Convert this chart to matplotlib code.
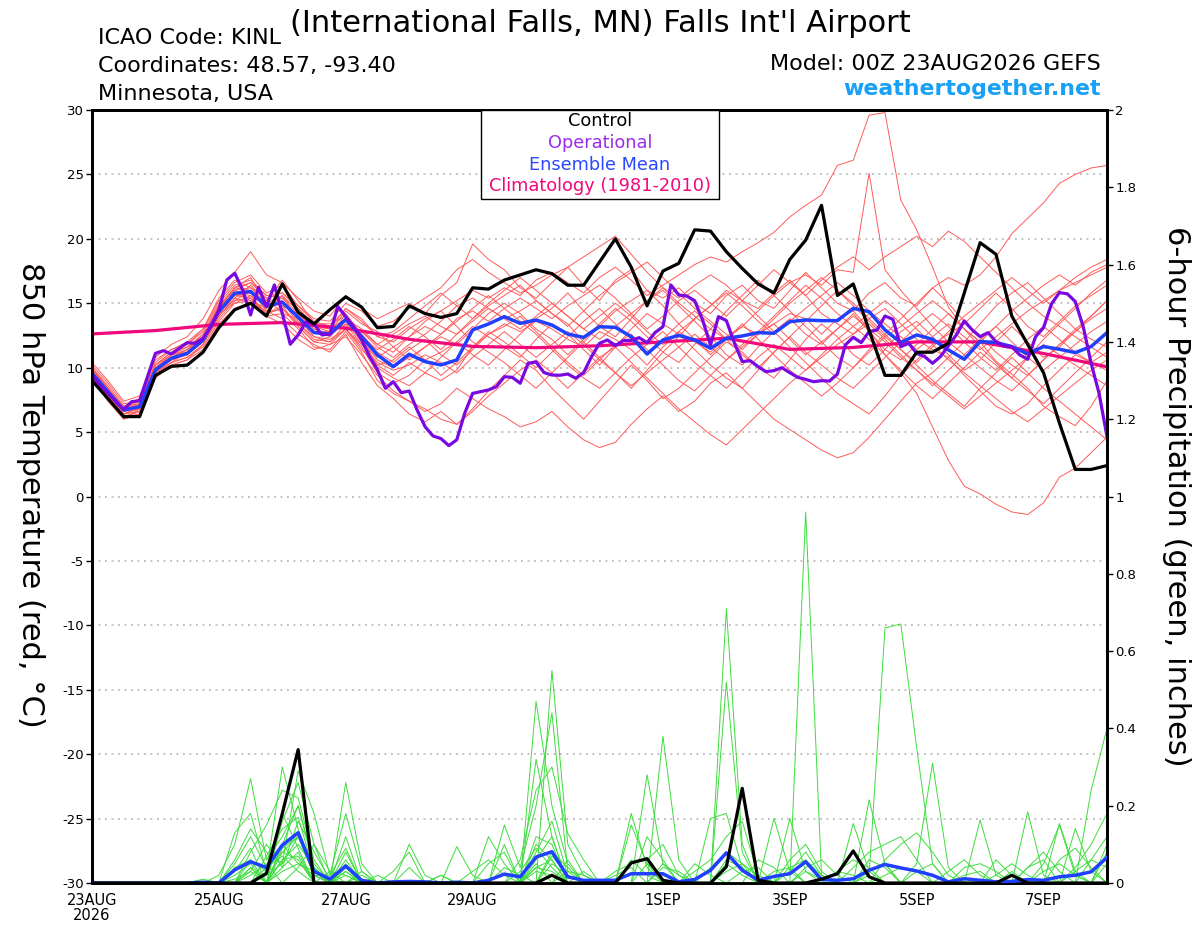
import numpy as np
import matplotlib
matplotlib.use("Agg")
import matplotlib.pyplot as plt
from matplotlib.patches import Rectangle

plt.rcParams['font.family'] = ['DejaVu Sans']
plt.rcParams['axes.unicode_minus'] = False

# ---------------- data ----------------
x_tick_days = [0, 2, 4, 6, 9, 11, 13, 15]
x_tick_labels = ["23AUG\n2026", "25AUG", "27AUG", "29AUG", "1SEP", "3SEP", "5SEP", "7SEP"]
temp_ticks = [-30, -25, -20, -15, -10, -5, 0, 5, 10, 15, 20, 25, 30]
precip_ticks = [0, 0.2, 0.4, 0.6, 0.8, 1.0, 1.2, 1.4, 1.6, 1.8, 2.0]

# 6-hourly control (black) 850 hPa temperature
control_temp = [9.0, 7.6, 6.2, 6.2, 9.4, 10.1, 10.2, 11.2, 13.1, 14.5, 15.0, 14.0, 16.5,
                14.3, 13.4, 14.5, 15.5, 14.7, 13.1, 13.2, 14.8, 14.2, 13.9, 14.2, 16.2, 16.1,
                16.8, 17.2, 17.6, 17.3, 16.4, 16.4, 18.2, 20.0, 17.8, 14.8, 17.5, 18.1, 20.7,
                20.6, 19.0, 17.7, 16.5, 15.8, 18.4, 19.9, 22.6, 15.6, 16.5, 12.9, 9.4, 9.4,
                11.2, 11.2, 11.9, 15.8, 19.7, 18.8, 14.0, 11.8, 9.6, 5.7, 2.1, 2.1, 2.4]

# 6-hourly ensemble mean (blue) temperature
mean_temp = [9.56, 8.14, 6.71, 6.97, 9.82, 10.73, 11.11, 12.15, 14.35, 15.78, 15.91, 14.79, 15.08,
             13.91, 12.72, 12.61, 13.75, 12.41, 10.99, 10.08, 11.04, 10.47, 10.21, 10.6, 12.93, 13.39,
             13.96, 13.44, 13.7, 13.31, 12.61, 12.35, 13.18, 13.13, 12.41, 11.06, 12.15, 12.51, 12.15,
             11.5, 12.28, 12.46, 12.72, 12.67, 13.57, 13.7, 13.65, 13.65, 14.6, 14.35, 12.93, 11.95,
             12.54, 12.2, 11.38, 10.65, 12.03, 11.95, 11.64, 11.07, 11.64, 11.43, 11.17, 11.64, 12.72]

# 3-hourly operational (purple) temperature
oper_temp = [9.43, 8.65, 8.0, 7.36, 6.76, 7.36, 7.44, 9.3, 11.11, 11.32, 11.06, 11.5, 11.94,
             11.89, 12.28, 13.18, 14.48, 16.81, 17.33, 16.04, 14.09, 16.24, 14.74, 16.42, 14.22, 11.82,
             12.54, 13.57, 13.39, 12.54, 12.61, 14.74, 13.96, 13.18, 12.15, 10.86, 9.82, 8.4, 8.91,
             8.06, 8.19, 6.71, 5.42, 4.7, 4.5, 3.95, 4.4, 6.46, 8.0, 8.14, 8.27, 8.53,
             9.3, 9.25, 8.79, 10.34, 10.44, 9.62, 9.43, 9.41, 9.51, 9.18, 9.62, 10.86, 11.89,
             12.15, 11.71, 12.1, 12.12, 12.33, 11.94, 12.72, 13.18, 16.42, 15.64, 15.56, 15.2, 13.7,
             11.76, 13.96, 13.65, 11.94, 10.47, 10.54, 10.08, 9.69, 9.77, 10.0, 9.61, 9.25, 9.09,
             8.91, 8.99, 8.96, 9.5, 11.76, 12.36, 11.94, 12.8, 12.93, 14.01, 13.75, 11.63, 11.89,
             11.11, 10.86, 10.34, 10.86, 11.69, 12.54, 13.63, 12.93, 12.41, 12.72, 12.02, 11.69, 11.63,
             10.99, 10.65, 12.41, 13.11, 14.95, 15.83, 15.73, 15.13, 13.19, 10.34, 8.01, 4.65]

# daily climatology (1981-2010)
clim_temp = [12.62, 12.88, 13.36, 13.5, 13.06, 12.2, 11.65, 11.55, 11.7, 12.0, 12.28, 11.42,
             11.57, 12.0, 12.0, 11.1, 10.07]

# ensemble members, 6-hourly temperature
member_temp_01 = [10.0, 8.4, 6.8, 7.6, 10.2, 11.2, 11.8, 13.0, 15.2, 16.6, 17.2, 15.8, 16.4,
                  14.8, 13.6, 13.2, 14.6, 13.8, 12.4, 12.0, 13.0, 13.8, 14.4, 15.2, 16.0, 15.4,
                  16.2, 15.6, 16.8, 17.4, 16.6, 15.8, 17.0, 17.8, 16.8, 15.6, 16.4, 17.2, 18.0,
                  18.6, 18.2, 19.0, 19.7, 20.5, 21.7, 22.6, 23.4, 25.7, 26.1, 29.6, 29.8, 23.0,
                  20.7, 17.8, 14.7, 13.0, 12.0, 10.5, 9.5, 8.4, 7.0, 6.2, 5.5, 7.0, 9.0]
member_temp_02 = [9.4, 7.8, 6.4, 6.6, 9.4, 10.4, 10.8, 11.8, 14.0, 15.4, 15.0, 14.2, 14.8,
                  13.2, 12.0, 12.4, 13.6, 12.0, 10.2, 9.4, 10.4, 9.6, 9.0, 9.8, 11.6, 12.6,
                  13.4, 12.8, 13.6, 13.0, 12.2, 11.6, 12.8, 12.2, 11.4, 10.2, 11.6, 12.8, 12.0,
                  11.2, 12.4, 13.2, 12.6, 13.4, 14.2, 13.8, 12.6, 13.8, 14.4, 13.0, 11.0, 9.6,
                  8.0, 5.4, 2.8, 0.8, 0.2, -0.6, -1.2, -1.4, -0.5, 1.5, 2.2, 3.4, 4.6]
member_temp_03 = [10.4, 9.0, 7.4, 7.8, 10.8, 11.8, 12.4, 13.8, 16.0, 17.4, 19.0, 17.2, 16.6,
                  15.4, 14.4, 14.0, 15.6, 14.6, 13.8, 14.4, 15.0, 14.2, 15.6, 16.6, 19.6, 18.4,
                  17.6, 16.2, 15.4, 16.6, 17.8, 16.4, 15.2, 16.8, 17.6, 16.0, 15.4, 16.2, 15.0,
                  14.2, 15.6, 16.4, 15.2, 14.6, 16.0, 17.4, 16.2, 15.0, 14.4, 15.8, 16.6, 15.4,
                  14.8, 16.2, 17.0, 16.4, 17.2, 18.6, 20.4, 21.6, 22.8, 24.3, 25.0, 25.5, 25.7]
member_temp_04 = [9.8, 8.0, 6.2, 6.4, 9.6, 10.6, 11.0, 12.0, 14.6, 16.2, 16.0, 14.4, 13.8,
                  12.6, 11.8, 11.2, 12.6, 10.4, 8.6, 7.6, 6.4, 5.8, 6.6, 5.6, 6.8, 8.2,
                  9.4, 10.6, 9.8, 8.4, 7.2, 6.0, 7.4, 8.8, 10.2, 9.0, 7.6, 8.4, 9.6,
                  10.8, 12.0, 11.2, 10.0, 9.2, 10.6, 12.2, 13.4, 12.4, 11.0, 10.2, 11.4, 12.8,
                  13.6, 12.4, 11.0, 9.8, 10.6, 12.0, 13.2, 12.0, 10.8, 11.6, 12.8, 14.0, 15.2]
member_temp_05 = [9.2, 7.6, 6.0, 6.8, 9.8, 10.8, 11.4, 12.6, 14.2, 15.0, 15.6, 14.8, 15.4,
                  14.6, 13.2, 12.8, 13.2, 12.8, 11.6, 10.8, 11.8, 12.6, 13.6, 14.8, 15.4, 14.6,
                  13.8, 14.4, 15.2, 14.2, 13.4, 12.0, 10.8, 9.6, 8.4, 9.8, 11.2, 12.4, 13.8,
                  14.8, 16.0, 15.2, 14.0, 12.8, 11.6, 10.4, 9.2, 8.0, 7.2, 6.4, 7.8, 9.4,
                  10.6, 11.8, 12.6, 13.4, 14.6, 15.8, 14.6, 13.2, 12.4, 13.6, 14.8, 15.6, 16.4]
member_temp_06 = [9.6, 8.2, 6.6, 7.2, 10.0, 11.0, 11.6, 12.2, 14.8, 16.0, 16.6, 15.4, 14.2,
                  13.8, 12.4, 12.2, 13.0, 11.6, 9.6, 8.8, 9.4, 10.6, 11.2, 12.0, 11.0, 10.2,
                  11.4, 12.6, 13.8, 14.6, 15.8, 14.4, 13.2, 12.4, 13.8, 15.2, 16.0, 14.8, 13.6,
                  12.4, 11.0, 10.2, 11.6, 12.8, 13.8, 12.6, 11.8, 13.0, 14.2, 12.8, 11.4, 10.6,
                  11.8, 13.0, 14.2, 13.0, 11.6, 10.4, 9.2, 10.8, 12.2, 13.4, 14.6, 15.8, 16.8]
member_temp_07 = [10.0, 8.2, 6.6, 6.8, 9.6, 10.4, 10.8, 11.6, 13.6, 15.0, 15.2, 14.0, 13.4,
                  12.2, 11.4, 11.8, 12.4, 11.0, 9.4, 8.2, 7.4, 6.6, 7.2, 8.4, 7.6, 6.8,
                  6.2, 5.4, 5.8, 6.6, 5.4, 4.4, 3.8, 4.2, 5.6, 6.8, 7.8, 6.6, 7.4,
                  8.8, 9.6, 8.4, 7.2, 6.0, 5.2, 4.4, 3.6, 3.0, 3.4, 4.6, 6.0, 7.4,
                  8.8, 9.6, 10.8, 9.4, 8.2, 7.0, 6.4, 7.2, 8.6, 9.8, 11.0, 10.4, 11.2]
member_temp_08 = [9.8, 8.4, 7.0, 7.2, 10.4, 11.4, 11.8, 12.8, 15.0, 16.4, 16.8, 15.6, 15.8,
                  14.8, 13.8, 13.6, 15.0, 14.4, 13.2, 13.6, 14.6, 15.4, 16.2, 17.6, 18.4, 17.4,
                  16.6, 15.8, 16.4, 17.2, 17.8, 18.6, 19.4, 20.2, 18.8, 17.4, 16.2, 15.4, 16.4,
                  17.2, 16.4, 15.2, 14.6, 15.8, 16.8, 15.6, 14.2, 13.4, 12.6, 13.8, 14.6, 13.4,
                  12.2, 11.4, 10.8, 12.0, 13.4, 14.8, 15.8, 16.6, 15.4, 14.2, 13.0, 12.2, 11.6]
member_temp_09 = [9.4, 7.8, 6.4, 7.0, 9.8, 10.6, 11.2, 12.4, 14.4, 15.8, 15.2, 14.6, 15.6,
                  13.6, 12.8, 12.6, 13.8, 12.2, 10.6, 10.0, 10.8, 11.6, 12.4, 11.8, 13.0, 14.2,
                  15.0, 14.2, 13.0, 12.2, 11.0, 12.2, 13.4, 14.6, 13.6, 12.4, 11.2, 10.4, 11.8,
                  13.0, 14.4, 15.6, 16.8, 15.6, 14.4, 13.2, 12.0, 10.8, 10.0, 11.4, 12.6, 13.8,
                  15.0, 16.2, 15.0, 13.6, 12.4, 11.2, 10.2, 9.4, 10.6, 11.8, 13.0, 14.0, 15.2]
member_temp_10 = [10.2, 8.8, 7.2, 7.4, 10.2, 11.2, 11.6, 12.6, 14.8, 16.2, 17.0, 15.0, 14.8,
                  14.2, 13.0, 12.4, 14.2, 12.6, 11.2, 10.4, 11.4, 12.2, 11.0, 10.2, 11.4, 12.6,
                  13.2, 14.0, 12.8, 11.6, 10.4, 9.4, 10.6, 11.8, 12.6, 11.4, 10.2, 9.0, 8.2,
                  9.4, 10.6, 11.8, 12.8, 14.0, 15.2, 16.4, 15.4, 14.2, 13.2, 12.2, 11.0, 9.8,
                  8.6, 7.6, 8.8, 10.0, 11.2, 10.2, 9.2, 8.2, 7.2, 8.4, 9.6, 10.8, 12.0]
member_temp_11 = [9.6, 8.0, 6.8, 7.0, 9.4, 10.4, 11.2, 12.0, 14.2, 15.6, 15.8, 14.8, 15.0,
                  14.0, 12.8, 12.6, 13.4, 11.8, 10.8, 11.6, 12.4, 13.2, 12.6, 13.8, 14.4, 13.6,
                  14.6, 15.4, 14.6, 13.8, 14.8, 15.6, 16.4, 15.4, 14.2, 13.0, 14.0, 15.2, 16.0,
                  15.0, 14.0, 15.2, 16.4, 17.6, 16.6, 15.6, 16.8, 17.8, 18.6, 17.6, 18.6, 19.4,
                  20.2, 19.4, 20.6, 19.8, 18.6, 17.4, 16.2, 15.0, 14.0, 13.2, 12.4, 11.6, 10.8]
member_temp_12 = [9.8, 8.2, 6.8, 7.2, 10.0, 10.8, 11.0, 12.2, 14.0, 15.4, 16.4, 15.2, 16.8,
                  15.2, 13.4, 13.4, 14.0, 12.4, 10.0, 9.2, 8.6, 9.6, 10.8, 12.0, 13.2, 12.4,
                  11.6, 10.8, 12.2, 13.4, 12.6, 11.4, 10.2, 11.6, 13.0, 14.2, 13.4, 12.6, 11.4,
                  10.2, 9.2, 8.4, 9.8, 11.2, 12.4, 13.6, 14.8, 16.0, 15.0, 13.8, 12.6, 11.4,
                  10.2, 9.0, 8.0, 7.0, 8.4, 9.6, 10.8, 9.6, 8.4, 7.4, 6.4, 5.4, 4.4]
member_temp_13 = [9.2, 7.6, 6.2, 6.6, 9.2, 10.2, 10.6, 11.4, 13.4, 14.6, 15.0, 14.4, 15.2,
                  13.4, 12.2, 12.0, 13.4, 12.8, 11.8, 11.2, 12.4, 13.6, 14.4, 13.2, 12.0, 11.2,
                  10.4, 9.4, 8.4, 9.6, 10.8, 12.0, 13.2, 14.4, 15.2, 16.0, 14.8, 13.4, 12.2,
                  11.0, 12.2, 13.4, 12.2, 11.0, 9.8, 8.8, 7.8, 8.8, 10.0, 11.2, 12.4, 13.2,
                  14.2, 15.2, 14.2, 13.0, 12.0, 13.2, 14.4, 15.4, 16.4, 17.2, 16.4, 17.4, 18.0]
member_temp_14 = [9.6, 8.0, 6.4, 6.8, 9.8, 10.6, 11.2, 12.2, 14.2, 15.6, 15.4, 14.0, 14.2,
                  13.0, 11.6, 11.4, 12.8, 11.2, 9.0, 8.0, 7.4, 6.8, 6.0, 5.6, 6.6, 7.8,
                  8.8, 9.8, 10.6, 9.6, 8.4, 9.6, 10.8, 11.6, 10.4, 9.2, 8.0, 6.8, 5.8,
                  4.8, 4.0, 5.2, 6.4, 7.6, 8.8, 9.8, 10.8, 11.8, 12.6, 13.4, 12.2, 11.0,
                  9.8, 8.6, 9.8, 11.0, 12.2, 13.2, 12.0, 10.8, 9.8, 10.8, 11.8, 12.8, 13.6]
member_temp_15 = [10.0, 8.6, 7.0, 7.6, 10.6, 11.4, 12.0, 13.0, 15.4, 16.8, 16.2, 15.0, 15.6,
                  14.4, 13.2, 13.0, 14.6, 13.6, 12.4, 12.8, 13.8, 14.8, 15.8, 14.8, 13.8, 14.8,
                  15.6, 16.4, 15.2, 14.2, 13.2, 14.4, 15.6, 16.6, 17.4, 18.2, 17.0, 15.8, 14.6,
                  13.6, 12.6, 11.4, 12.6, 13.8, 15.0, 16.0, 17.0, 16.0, 14.8, 13.6, 12.4, 11.4,
                  10.4, 11.6, 12.8, 14.0, 15.0, 16.0, 17.0, 16.0, 15.0, 16.0, 17.0, 17.8, 18.4]
member_temp_16 = [9.4, 7.8, 6.2, 6.6, 9.6, 10.6, 11.0, 12.0, 14.6, 15.8, 15.6, 14.2, 14.6,
                  13.4, 12.4, 12.0, 13.0, 11.4, 10.2, 10.6, 11.6, 10.6, 9.4, 10.4, 11.6, 12.8,
                  12.0, 11.0, 10.0, 11.2, 12.4, 13.6, 14.6, 13.4, 12.2, 11.0, 12.2, 13.4, 14.4,
                  13.4, 12.2, 11.0, 10.0, 11.2, 12.4, 11.2, 10.2, 9.2, 8.4, 9.6, 10.8, 12.0,
                  13.2, 14.2, 13.2, 12.0, 10.8, 9.8, 11.0, 12.2, 13.2, 12.2, 11.2, 10.4, 9.8]
member_temp_17 = [9.8, 8.4, 6.8, 7.4, 10.2, 11.0, 11.4, 12.4, 14.8, 16.0, 16.2, 15.4, 15.8,
                  14.6, 13.4, 13.0, 13.8, 13.0, 11.8, 12.6, 13.4, 14.0, 13.2, 12.6, 13.6, 14.6,
                  13.8, 13.0, 14.0, 15.0, 14.0, 13.0, 12.2, 13.2, 14.2, 15.2, 16.2, 15.0, 14.0,
                  13.0, 12.2, 13.2, 14.4, 15.6, 16.6, 17.2, 16.4, 17.6, 17.4, 25.1, 17.6, 16.0,
                  14.6, 13.2, 12.0, 11.0, 10.0, 9.0, 8.2, 9.4, 10.6, 11.8, 12.8, 13.8, 14.6]
member_temp_18 = [9.6, 8.0, 6.6, 7.0, 9.8, 10.8, 11.4, 12.4, 14.4, 15.2, 16.0, 14.6, 15.2,
                  14.0, 12.8, 12.8, 14.4, 13.4, 12.8, 11.6, 10.6, 11.6, 12.6, 13.6, 14.6, 15.6,
                  14.6, 13.6, 12.6, 11.4, 10.2, 9.2, 8.4, 9.6, 10.8, 11.8, 12.8, 11.6, 10.4,
                  9.4, 8.4, 9.6, 10.8, 11.8, 10.8, 9.8, 11.0, 12.2, 13.2, 14.2, 15.2, 14.2,
                  13.0, 11.8, 10.6, 9.6, 8.6, 7.6, 6.6, 5.8, 6.8, 7.8, 8.8, 9.8, 10.6]
member_temp_19 = [10.0, 8.4, 6.8, 7.0, 10.0, 11.0, 11.2, 12.4, 14.6, 16.2, 16.6, 15.6, 15.4,
                  14.2, 13.0, 12.6, 13.8, 12.4, 11.4, 12.2, 13.2, 12.4, 11.4, 12.6, 13.8, 15.0,
                  16.0, 17.0, 16.0, 15.0, 14.0, 13.0, 14.0, 15.0, 14.0, 12.8, 11.8, 12.8, 13.8,
                  14.8, 15.8, 14.8, 13.6, 12.6, 13.6, 14.6, 15.6, 16.6, 15.6, 14.4, 13.4, 12.4,
                  11.4, 12.4, 13.4, 12.4, 11.4, 12.4, 13.4, 14.4, 15.2, 16.0, 16.6, 17.2, 17.8]
member_temp_20 = [9.2, 7.4, 6.0, 6.4, 9.4, 10.2, 10.6, 11.8, 13.8, 15.2, 15.4, 14.2, 14.6,
                  13.2, 12.0, 11.8, 13.0, 11.8, 10.4, 9.8, 10.2, 11.0, 10.4, 9.6, 10.8, 11.8,
                  12.8, 11.8, 10.8, 11.8, 12.8, 11.8, 10.6, 9.6, 8.6, 9.6, 10.6, 11.6, 12.6,
                  11.6, 10.6, 11.6, 12.6, 13.4, 12.2, 11.0, 12.0, 13.0, 14.0, 13.0, 12.0, 10.8,
                  9.8, 8.8, 7.8, 6.8, 7.8, 8.8, 9.8, 10.8, 11.8, 11.0, 10.2, 9.4, 8.6]

# 6-hourly precipitation (inches)
control_precip = [0, 0, 0, 0, 0, 0, 0, 0, 0, 0, 0, 0.025, 0.18,
                  0.345, 0, 0, 0, 0, 0, 0, 0, 0, 0, 0, 0, 0,
                  0, 0, 0, 0.02, 0, 0, 0, 0, 0.052, 0.063, 0.007, 0, 0,
                  0, 0.042, 0.245, 0.007, 0, 0, 0, 0.01, 0.024, 0.083, 0.016, 0, 0,
                  0, 0, 0, 0, 0, 0, 0.02, 0, 0, 0, 0, 0, 0]
mean_precip = [0, 0, 0, 0, 0, 0, 0, 0.002, 0, 0.034, 0.055, 0.04, 0.098,
               0.13, 0.03, 0.01, 0.044, 0.007, 0, 0.003, 0.004, 0.003, 0, 0.002, 0, 0.007,
               0.023, 0.016, 0.067, 0.081, 0.016, 0.007, 0.007, 0.007, 0.024, 0.024, 0.024, 0.003, 0.009,
               0.033, 0.078, 0.033, 0.007, 0.017, 0.024, 0.055, 0.009, 0.007, 0.011, 0.033, 0.048, 0.039,
               0.031, 0.02, 0.003, 0.011, 0.007, 0.003, 0.004, 0.009, 0.007, 0.016, 0.02, 0.029, 0.066]

member_precip_01 = [0, 0, 0, 0, 0, 0, 0, 0, .02, .10, .27, .06, .12,
                    .20, .04, 0, .26, .05, 0, 0, 0, 0, 0, 0, 0, 0,
                    0, 0, .47, .20, .05, 0, 0, 0, 0, 0, 0, 0, 0,
                    0, 0, 0, 0, 0, 0, .96, .02, 0, 0, 0, 0, 0,
                    0, 0, 0, 0, 0, 0, 0, 0, .05, .15, .02, 0, 0]
member_precip_02 = [0, 0, 0, 0, 0, 0, 0, 0, 0, .13, .18, .03, .30,
                    .14, .02, 0, .12, 0, 0, 0, 0, 0, 0, 0, 0, 0,
                    0, 0, 0, .55, .10, .02, 0, 0, 0, 0, 0, 0, 0,
                    0, .71, .10, 0, 0, 0, 0, 0, 0, 0, .02, .66, .67,
                    .35, .05, 0, 0, 0, 0, 0, 0, 0, 0, 0, 0, 0]
member_precip_03 = [0, 0, 0, 0, 0, 0, 0, 0, 0, .06, .14, .08, .05,
                    .29, .18, .02, .18, .03, 0, 0, 0, 0, 0, 0, 0, 0,
                    0, 0, .32, .12, 0, 0, 0, 0, 0, 0, .38, .06, 0,
                    0, .52, .08, 0, 0, 0, 0, 0, 0, 0, 0, 0, 0,
                    0, 0, 0, 0, 0, 0, 0, 0, 0, 0, 0, .24, .40]
member_precip_04 = [0, 0, 0, 0, 0, 0, 0, 0, 0, 0, .08, .15, .24,
                    .22, .06, 0, .08, 0, 0, 0, .10, .02, 0, 0, 0, .12,
                    .05, 0, 0, 0, 0, 0, 0, 0, 0, .28, .05, 0, 0,
                    0, 0, 0, 0, 0, 0, 0, 0, 0, 0, 0, 0, 0,
                    .05, .31, .04, 0, 0, 0, 0, 0, 0, 0, 0, 0, 0]
member_precip_05 = [0, 0, 0, 0, 0, 0, 0, 0, 0, .03, .09, 0, .16,
                    .26, .10, 0, 0, .03, 0, 0, 0, 0, 0, 0, 0, 0,
                    .15, .04, .20, .44, .03, 0, 0, 0, .18, .04, 0, 0, 0,
                    0, 0, 0, 0, 0, 0, .03, .01, 0, 0, .215, .05, 0,
                    0, 0, 0, 0, .163, .02, 0, 0, 0, 0, 0, 0, 0]
member_precip_06 = [0, 0, 0, 0, 0, 0, 0, 0, 0, 0, .04, 0, .10,
                    .20, .05, 0, .06, 0, 0, 0, 0, 0, 0, 0, 0, 0,
                    .10, 0, .08, .16, .02, 0, 0, 0, .15, .05, 0, 0, 0,
                    .167, .18, .04, 0, 0, .167, .03, 0, 0, 0, 0, 0, 0,
                    0, 0, 0, 0, 0, 0, 0, 0, 0, 0, .141, .03, 0]
member_precip_07 = [0, 0, 0, 0, 0, 0, 0, 0, 0, 0, 0, .07, .14,
                    .17, .03, 0, 0, 0, 0, .03, .08, 0, 0, .094, .02, 0,
                    0, 0, .12, .10, 0, 0, 0, 0, 0, 0, 0, 0, 0,
                    0, 0, 0, 0, .167, .03, 0, 0, 0, .154, .03, 0, 0,
                    0, 0, 0, 0, 0, 0, 0, .184, .02, 0, 0, 0, 0]
member_precip_08 = [0, 0, 0, 0, 0, 0, 0, 0, 0, .05, .12, .04, .08,
                    .12, .02, .02, .09, 0, 0, 0, 0, 0, 0, 0, 0, 0,
                    0, .06, .24, .30, .128, .06, 0, 0, 0, 0, 0, 0, .03,
                    .06, .12, .16, .02, 0, 0, 0, 0, 0, 0, 0, 0, 0,
                    0, 0, 0, 0, 0, 0, 0, 0, 0, .154, .03, 0, .08]
member_precip_09 = [0, 0, 0, 0, 0, 0, 0, 0, 0, 0, 0, 0, .06,
                    .10, .04, 0, .04, 0, 0, 0, 0, 0, 0, 0, 0, .05,
                    .08, 0, .10, .06, 0, 0, 0, .03, .05, .06, .10, .02, 0,
                    0, 0, 0, 0, 0, .03, .08, .02, 0, 0, 0, .06, .10,
                    .13, .08, .02, 0, 0, 0, 0, 0, 0, 0, 0, .06, .12]
member_precip_10 = [0, 0, 0, 0, 0, 0, 0, 0, 0, 0, .03, .10, .04,
                    .16, .08, .01, 0, 0, 0, 0, 0, 0, 0, 0, 0, 0,
                    0, 0, 0, .08, .04, 0, 0, 0, 0, 0, 0, 0, 0,
                    .04, .08, .05, 0, 0, 0, 0, 0, .03, .06, .04, 0, 0,
                    0, 0, 0, 0, 0, .06, .02, 0, 0, 0, 0, 0, 0]
member_precip_11 = [0, 0, 0, 0, 0, 0, 0, 0, 0, .02, .05, 0, .18,
                    .09, 0, 0, .02, 0, 0, 0, 0, 0, 0, 0, 0, 0,
                    0, 0, .06, .12, 0, .03, 0, 0, 0, .05, .02, 0, 0,
                    0, 0, 0, .06, .04, 0, 0, 0, 0, 0, 0, 0, 0,
                    0, 0, 0, .04, .05, .03, 0, 0, 0, 0, .04, .10, .18]
member_precip_12 = [0, 0, 0, 0, 0, 0, 0, 0, 0, 0, 0, .02, .05,
                    .12, .02, 0, 0, .02, 0, 0, .04, 0, 0, 0, 0, 0,
                    0, 0, 0, .05, .02, 0, 0, 0, 0, 0, 0, 0, 0,
                    0, .06, .04, 0, 0, 0, .04, .06, .02, 0, 0, 0, 0,
                    0, 0, 0, 0, 0, 0, 0, .04, .08, .03, 0, 0, 0]
member_precip_13 = [0, 0, 0, 0, 0, 0, 0, 0, 0, 0, .06, 0, .08,
                    .06, 0, 0, .05, 0, 0, 0, 0, 0, 0, 0, .03, .06,
                    .02, 0, .04, .06, 0, 0, 0, 0, 0, .12, .06, 0, 0,
                    0, 0, 0, 0, 0, 0, 0, 0, 0, .04, .08, .10, .12,
                    .06, 0, 0, 0, 0, 0, .03, 0, 0, 0, 0, 0, .05]
member_precip_14 = [0, 0, 0, 0, 0, 0, 0, 0, 0, .04, .06, .03, .10,
                    .05, .03, 0, .03, 0, 0, 0, 0, 0, .02, 0, 0, 0,
                    0, 0, .05, 0, .06, 0, 0, 0, 0, 0, 0, 0, .05,
                    .02, 0, 0, 0, 0, .06, .10, .03, 0, 0, 0, 0, 0,
                    0, 0, 0, 0, 0, 0, 0, 0, 0, .06, .09, .04, 0]
member_precip_15 = [0, 0, 0, 0, 0, 0, 0, 0, 0, 0, 0, 0, .04,
                    .08, 0, .03, .02, 0, 0, 0, 0, 0, 0, 0, 0, 0,
                    0, .03, .09, .04, 0, 0, 0, 0, 0, 0, .04, .03, 0,
                    0, 0, 0, 0, 0, 0, 0, 0, 0, 0, .06, .04, 0,
                    0, 0, .03, .06, .02, 0, 0, 0, 0, 0, 0, 0, 0]
member_precip_16 = [0, 0, 0, 0, 0, 0, 0, 0, 0, 0, .02, .05, 0,
                    .04, .10, .03, 0, 0, 0, 0, 0, 0, 0, 0, 0, 0,
                    0, 0, .03, .02, 0, 0, 0, .02, .04, 0, 0, 0, 0,
                    0, .03, .05, .02, 0, 0, 0, 0, 0, 0, 0, 0, 0,
                    .03, .05, 0, 0, 0, 0, 0, .04, .06, 0, 0, 0, .10]
member_precip_17 = [0, 0, 0, 0, 0, 0, 0, 0, 0, .01, .03, 0, .06,
                    .07, 0, 0, .04, .01, 0, 0, 0, 0, 0, 0, 0, 0,
                    0, 0, 0, 0, .03, .02, 0, 0, 0, 0, 0, 0, 0,
                    0, 0, 0, 0, 0, .04, .06, .02, 0, 0, 0, 0, 0,
                    0, 0, 0, 0, 0, .02, .05, .02, 0, 0, 0, 0, 0]
member_precip_18 = [0, 0, 0, 0, 0, 0, 0, .01, 0, 0, 0, 0, .03,
                    .05, .02, 0, 0, 0, .02, 0, 0, 0, 0, 0, 0, 0,
                    .04, .02, 0, 0, 0, 0, 0, 0, .06, .02, 0, 0, 0,
                    0, 0, .03, .04, 0, 0, 0, 0, 0, 0, 0, .02, .04,
                    .03, 0, 0, 0, 0, 0, 0, 0, 0, 0, .03, .06, .04]
member_precip_19 = [0, 0, 0, 0, 0, 0, 0, 0, 0, 0, 0, .04, .07,
                    .03, 0, 0, .03, 0, 0, 0, 0, 0, 0, 0, 0, 0,
                    0, 0, .04, .03, 0, 0, 0, 0, 0, 0, .05, .02, 0,
                    0, 0, 0, 0, .03, .04, 0, 0, 0, 0, .03, .05, 0,
                    0, 0, 0, .02, .03, 0, 0, 0, 0, 0, 0, 0, 0]
member_precip_20 = [0, 0, 0, 0, 0, 0, 0, 0, 0, 0, .04, 0, .09,
                    .12, .04, 0, 0, 0, 0, 0, 0, 0, .02, 0, 0, 0,
                    0, 0, 0, .07, .02, 0, 0, 0, 0, 0, 0, 0, 0,
                    0, .05, .02, 0, 0, 0, 0, 0, .03, .02, 0, 0, 0,
                    0, 0, 0, 0, 0, 0, 0, 0, .03, .05, .02, 0, 0]

member_temps = [member_temp_01, member_temp_02, member_temp_03, member_temp_04, member_temp_05,
                member_temp_06, member_temp_07, member_temp_08, member_temp_09, member_temp_10,
                member_temp_11, member_temp_12, member_temp_13, member_temp_14, member_temp_15,
                member_temp_16, member_temp_17, member_temp_18, member_temp_19, member_temp_20]
member_precips = [member_precip_01, member_precip_02, member_precip_03, member_precip_04,
                  member_precip_05, member_precip_06, member_precip_07, member_precip_08,
                  member_precip_09, member_precip_10, member_precip_11, member_precip_12,
                  member_precip_13, member_precip_14, member_precip_15, member_precip_16,
                  member_precip_17, member_precip_18, member_precip_19, member_precip_20]

# time axes (days since 00Z 23AUG)
t6 = np.arange(len(control_temp)) * 0.25
t3 = np.arange(len(oper_temp)) * 0.125
tday = np.arange(len(clim_temp)) * 1.0

# ---------------- figure ----------------
W, H = 1200, 927
fig = plt.figure(figsize=(W / 100, H / 100), dpi=100, facecolor='white')

def fx(px):
    return px / W

def fy(py):
    return 1 - py / H

L, R, T, B = 92, 1107, 110, 883
ax = fig.add_axes([fx(L), fy(B), fx(R - L), (B - T) / H])
ax.set_xlim(0, 16)
ax.set_ylim(-30, 30)
ax2 = ax.twinx()
ax2.set_ylim(0, 2)
ax2.set_xlim(0, 16)

for a in (ax, ax2):
    for s in a.spines.values():
        s.set_linewidth(2.0)
        s.set_color('black')

# grid
for g in temp_ticks[1:-1]:
    ax.axhline(g, color='#b4b4b4', lw=1.2, linestyle=(0, (1.1, 2.8)), zorder=0.5)

red = '#ff5a5a'
green = '#3ddc3d'
for m in member_temps:
    ax.plot(t6, m, color=red, lw=0.7, zorder=1)
ax.plot(tday, clim_temp, color='#f0087c', lw=2.3, zorder=3, solid_joinstyle='round')
ax.plot(t6, mean_temp, color='#2040ff', lw=2.5, zorder=4)
ax.plot(t3, oper_temp, color='#7a08e0', lw=2.3, zorder=5)
ax.plot(t6, control_temp, color='black', lw=2.3, zorder=6)

for p in member_precips:
    ax2.plot(t6, p, color=green, lw=0.7, zorder=1)
ax2.plot(t6, mean_precip, color='#2040ff', lw=2.5, zorder=4)
ax2.plot(t6, control_precip, color='black', lw=2.3, zorder=5)

# ticks
ax.set_yticks(temp_ticks)
ax.set_yticklabels([str(v) for v in temp_ticks])
ax.tick_params(axis='y', direction='out', length=4, width=1, labelsize=9.5, pad=2)
ax2.set_yticks(precip_ticks)
ax2.set_yticklabels([f"{v:g}" for v in precip_ticks])
ax2.tick_params(axis='y', direction='out', length=4, width=1, labelsize=9.5, pad=2)
ax.set_xticks(x_tick_days)
ax.set_xticklabels(x_tick_labels, linespacing=1.05)
ax.tick_params(axis='x', length=0, labelsize=10.5, pad=7)

# axis labels
fig.text(fx(30), fy(495), "850 hPa Temperature (red, °C)", rotation=-90,
         ha='center', va='center', fontsize=22)
fig.text(fx(1177), fy(496), "6-hour Precipitation (green, inches)", rotation=-90,
         ha='center', va='center', fontsize=22)

# header
fig.text(fx(600), fy(32), "(International Falls, MN) Falls Int'l Airport",
         ha='center', va='baseline', fontsize=22)
fig.text(fx(98), fy(43.5), "ICAO Code: KINL", ha='left', va='baseline', fontsize=16)
fig.text(fx(98), fy(72.5), "Coordinates: 48.57, -93.40", ha='left', va='baseline', fontsize=16)
fig.text(fx(98), fy(99.5), "Minnesota, USA", ha='left', va='baseline', fontsize=16)
fig.text(fx(1101), fy(70.5), "Model: 00Z 23AUG2026 GEFS", ha='right', va='baseline', fontsize=16)
fig.text(fx(1101), fy(95), "weathertogether.net", ha='right', va='baseline',
         fontsize=15.8, fontweight='bold', color='#17a0f5')

# legend box
fig.patches.append(Rectangle((fx(480.5), fy(199)), fx(719 - 480.5), (199 - 110) / H,
                             transform=fig.transFigure, facecolor='white',
                             edgecolor='black', lw=1.0, zorder=10))
leg_items = [("Control", 'black', 121.5), ("Operational", '#9a2ce8', 143),
             ("Ensemble Mean", '#2a48ff', 164.5), ("Climatology (1981-2010)", '#f0087c', 186)]
for txt, col, yy in leg_items:
    fig.text(fx(600), fy(yy), txt, ha='center', va='center', fontsize=12.8, color=col, zorder=11)

fig.savefig("out.png", dpi=100, facecolor='white')
